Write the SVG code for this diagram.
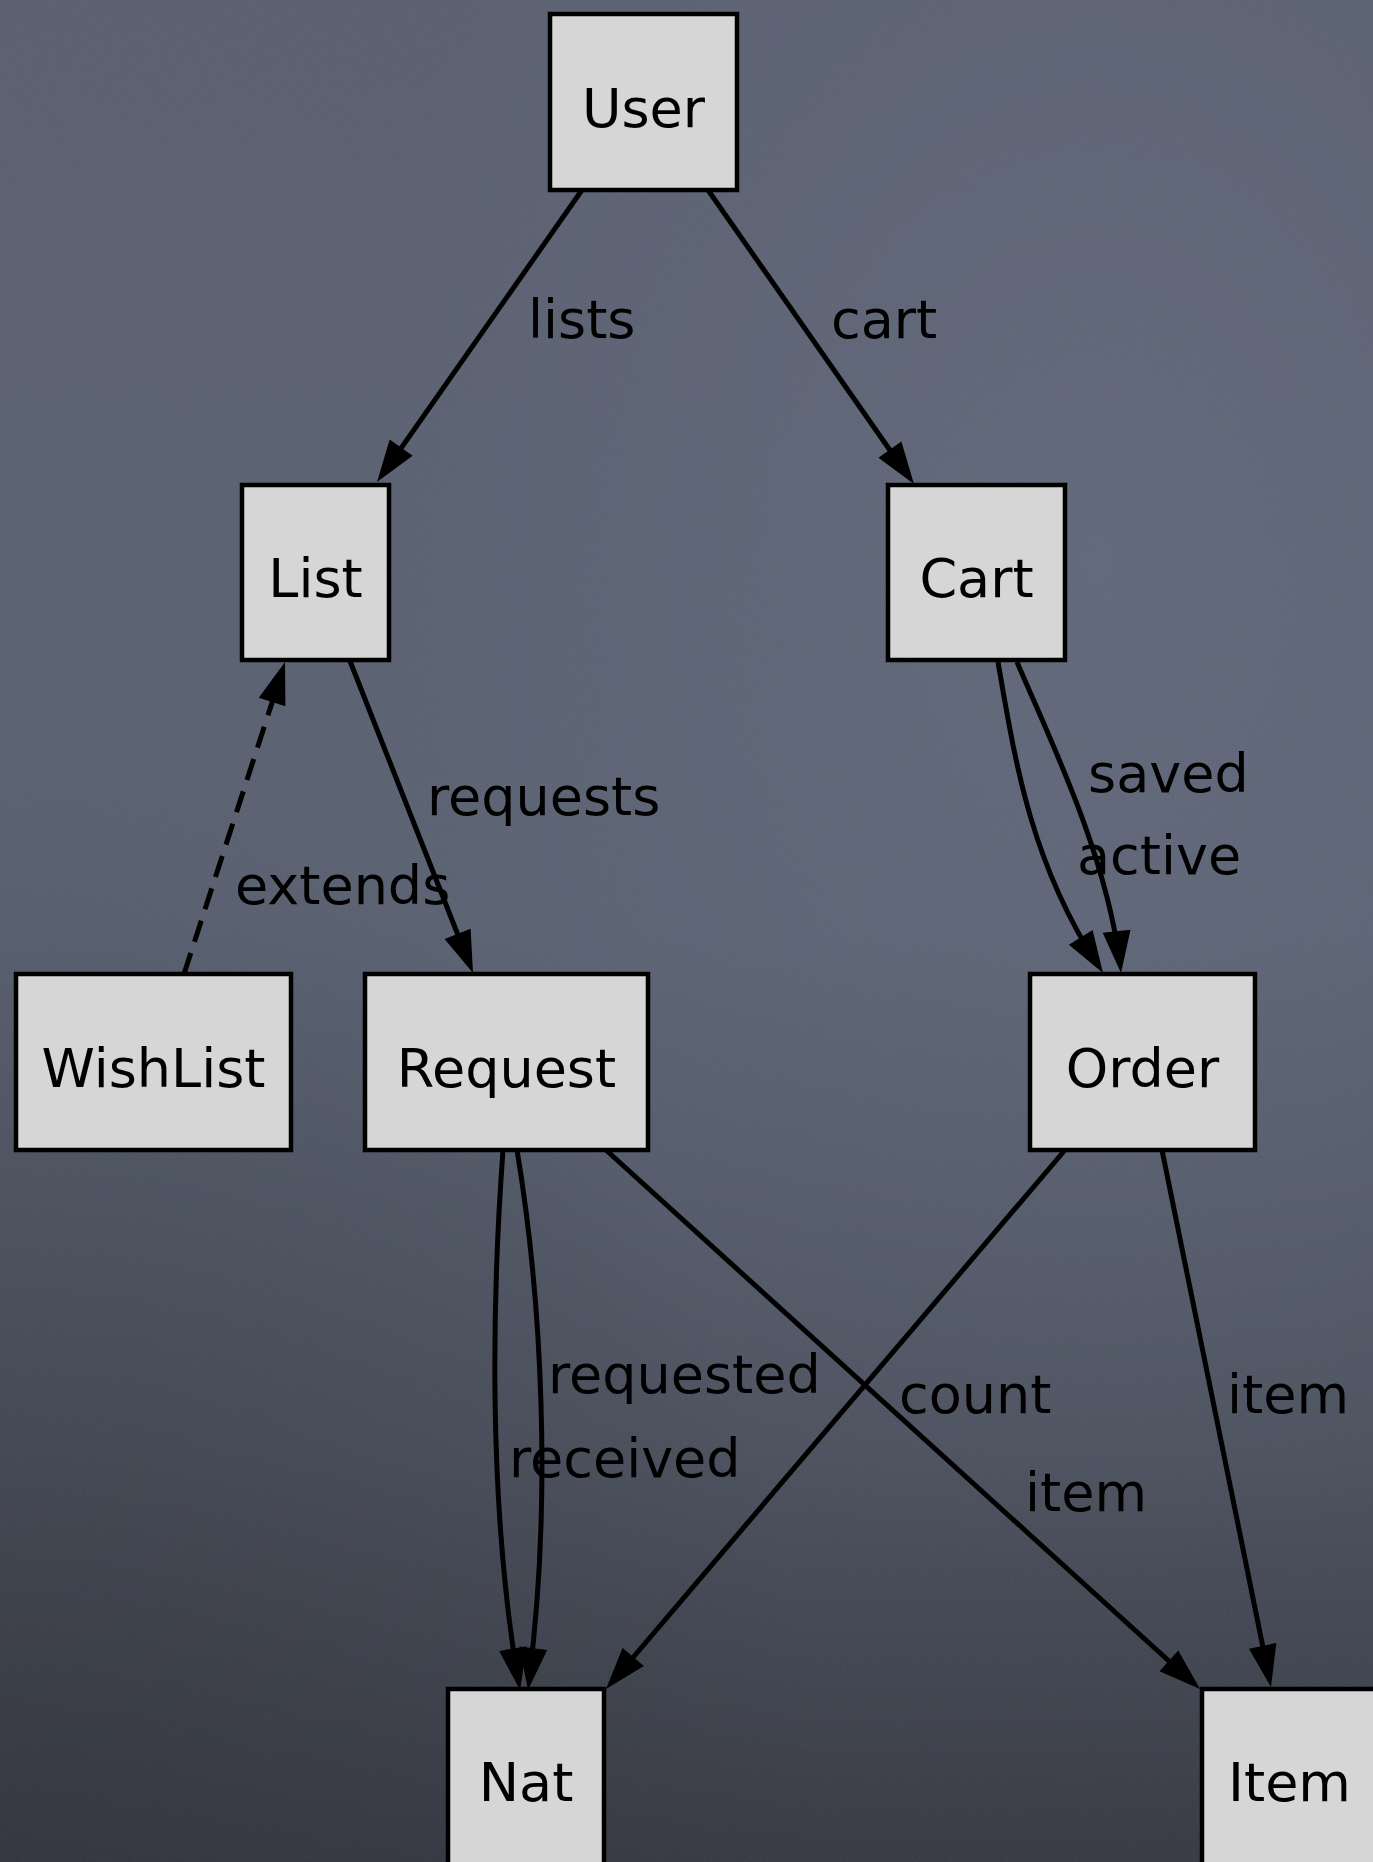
<svg xmlns="http://www.w3.org/2000/svg" xmlns:xlink="http://www.w3.org/1999/xlink" width="1373" height="1862" viewBox="0 0 1373 1862">
  <defs>
    <linearGradient id="board" x1="0" y1="0" x2="0" y2="1">
      <stop offset="0" stop-color="#585e6e"/>
      <stop offset="0.5" stop-color="#586070"/>
      <stop offset="0.78" stop-color="#4a4f5c"/>
      <stop offset="1" stop-color="#353842"/>
    </linearGradient>
    <radialGradient id="glow" cx="0.8" cy="0.3" r="0.55">
      <stop offset="0" stop-color="#687084" stop-opacity="0.45"/>
      <stop offset="1" stop-color="#687084" stop-opacity="0"/>
    </radialGradient>
    <radialGradient id="cornerShade" cx="0" cy="1" r="0.6">
      <stop offset="0" stop-color="#2a2d35" stop-opacity="0.45"/>
      <stop offset="1" stop-color="#2a2d35" stop-opacity="0"/>
    </radialGradient>
    <filter id="chalk" x="0" y="0" width="100%" height="100%">
      <feTurbulence type="fractalNoise" baseFrequency="0.7" numOctaves="2" seed="3" result="n"/>
      <feColorMatrix in="n" type="matrix" values="0 0 0 0 0.8  0 0 0 0 0.82  0 0 0 0 0.88  0 0 0 0.12 0"/>
    </filter>
    <!-- arrowhead pointing along +x, tip at the origin -->
    <path id="head" d="M-42,-14 L0,0 L-42,14 Z" fill="#000"/>
    <style>
      .node rect { fill: #d6d6d6; stroke: #000; stroke-width: 4.5; }
      .node text { font-family: "DejaVu Sans", "Liberation Sans", sans-serif; font-size: 54px; fill: #000; text-anchor: middle; }
      .edge { fill: none; stroke: #000; stroke-width: 5; }
      .dashed { stroke-dasharray: 22 12; }
      .label { font-family: "DejaVu Sans", "Liberation Sans", sans-serif; font-size: 54px; fill: #000; }
    </style>
  </defs>

  <!-- chalkboard background -->
  <rect x="0" y="0" width="1373" height="1862" fill="url(#board)"/>
  <rect x="0" y="0" width="1373" height="1862" fill="url(#glow)"/>
  <rect x="0" y="0" width="1373" height="1862" fill="url(#cornerShade)"/>
  <rect x="0" y="0" width="1373" height="1862" filter="url(#chalk)" opacity="0.5"/>

  <!-- connectors -->
  <g id="connectors">
    <path class="edge" d="M582,190 L383,474"/>
    <path class="edge" d="M708,190 L908,476"/>
    <path class="edge" d="M350,661 L469,963"/>
    <path class="edge dashed" d="M184,974 L282,672"/>
    <path class="edge" d="M998,662 C1015,760 1030,860 1097,964"/>
    <path class="edge" d="M1017,662 C1050,740 1105,850 1120,963"/>
    <path class="edge" d="M503,1150 C492,1300 488,1500 518,1680"/>
    <path class="edge" d="M517,1150 C542,1300 552,1500 529,1680"/>
    <path class="edge" d="M606,1150 L1192,1682"/>
    <path class="edge" d="M1065,1150 L613,1681"/>
    <path class="edge" d="M1162,1150 L1269,1677"/>

    <!-- arrowheads at the target ends -->
    <use xlink:href="#head" transform="translate(377,482) rotate(125.1)"/>
    <use xlink:href="#head" transform="translate(914,484) rotate(55)"/>
    <use xlink:href="#head" transform="translate(473,973) rotate(68.5)"/>
    <use xlink:href="#head" transform="translate(285,662) rotate(-72.1)"/>
    <use xlink:href="#head" transform="translate(1103,973) rotate(58)"/>
    <use xlink:href="#head" transform="translate(1121,973) rotate(84)"/>
    <use xlink:href="#head" transform="translate(520,1690) rotate(80.4)"/>
    <use xlink:href="#head" transform="translate(528,1690) rotate(97.2)"/>
    <use xlink:href="#head" transform="translate(1200,1689) rotate(42.2)"/>
    <use xlink:href="#head" transform="translate(606,1689) rotate(130.4)"/>
    <use xlink:href="#head" transform="translate(1271,1687) rotate(78.5)"/>

    <text class="label" x="528" y="338">lists</text>
    <text class="label" x="831" y="338">cart</text>
    <text class="label" x="427" y="815">requests</text>
    <text class="label" x="235" y="904">extends</text>
    <text class="label" x="1088" y="792">saved</text>
    <text class="label" x="1077" y="874">active</text>
    <text class="label" x="548" y="1393">requested</text>
    <text class="label" x="509" y="1477">received</text>
    <text class="label" x="899" y="1413">count</text>
    <text class="label" x="1025" y="1511">item</text>
    <text class="label" x="1227" y="1413">item</text>
  </g>

  <!-- nodes -->
  <g id="node-user" class="node">
    <rect x="550" y="14" width="187" height="176"/>
    <text x="643.5" y="127">User</text>
  </g>
  <g id="node-list" class="node">
    <rect x="242" y="485" width="147" height="175"/>
    <text x="315.5" y="597">List</text>
  </g>
  <g id="node-cart" class="node">
    <rect x="888" y="485" width="177" height="175"/>
    <text x="976.5" y="597">Cart</text>
  </g>
  <g id="node-wishlist" class="node">
    <rect x="16" y="974" width="275" height="176"/>
    <text x="153.5" y="1087">WishList</text>
  </g>
  <g id="node-request" class="node">
    <rect x="365" y="974" width="283" height="176"/>
    <text x="506.5" y="1087">Request</text>
  </g>
  <g id="node-order" class="node">
    <rect x="1030" y="974" width="225" height="176"/>
    <text x="1142.5" y="1087">Order</text>
  </g>
  <g id="node-nat" class="node">
    <rect x="448" y="1689" width="156" height="176"/>
    <text x="526" y="1801">Nat</text>
  </g>
  <g id="node-item" class="node">
    <rect x="1202" y="1689" width="175" height="176"/>
    <text x="1289.5" y="1801">Item</text>
  </g>
</svg>
